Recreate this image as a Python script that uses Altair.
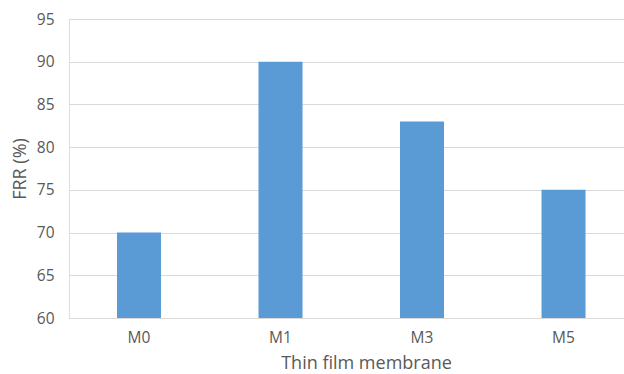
import altair as alt
import pandas as pd

categories = ["M0", "M1", "M3", "M5"]
frr = [70, 90, 83, 75]
y_ticks = [60, 65, 70, 75, 80, 85, 90, 95]

df = pd.DataFrame({"membrane": categories, "frr": frr})

FONT = "Open Sans"
GRAY = "#595959"

chart = alt.Chart(df).mark_bar(color="#5B9BD5", size=44, clip=True).encode(
    x=alt.X("membrane:N", sort=categories,
            scale=alt.Scale(paddingInner=0.689, paddingOuter=0.3055, align=0.555),
            axis=alt.Axis(title="Thin film membrane", labelAngle=0, ticks=False,
                          domain=True, domainColor="#d9d9d9", domainWidth=1,
                          labelPadding=12, labelFont=FONT, labelFontSize=15.5,
                          labelColor=GRAY, titleFont=FONT, titleFontSize=18,
                          titleFontWeight="normal", titleColor=GRAY,
                          titleX=297, titleY=50.5, titleBaseline="alphabetic",
                          titleAlign="center")),
    y=alt.Y("frr:Q", scale=alt.Scale(domain=[60, 95], nice=False, zero=False),
            axis=alt.Axis(title="FRR (%)", values=y_ticks, ticks=False, domain=False,
                          grid=True, gridColor="#d9d9d9", gridWidth=1,
                          labelPadding=15, labelFont=FONT, labelFontSize=15.5,
                          labelColor=GRAY, titleFont=FONT, titleFontSize=18,
                          titleFontWeight="normal", titleColor=GRAY,
                          titleX=-48.5, titleY=149.5, titleBaseline="middle",
                          titleAlign="center", titleAngle=-90)),
).properties(
    width=555, height=299,
    autosize=alt.AutoSizeParams(type="none"),
    padding={"left": 69, "top": 19, "right": 0, "bottom": 56},
).configure_view(stroke=None).configure(background="white")

chart.save("out.html", embed_options={"renderer": "svg", "actions": False})
